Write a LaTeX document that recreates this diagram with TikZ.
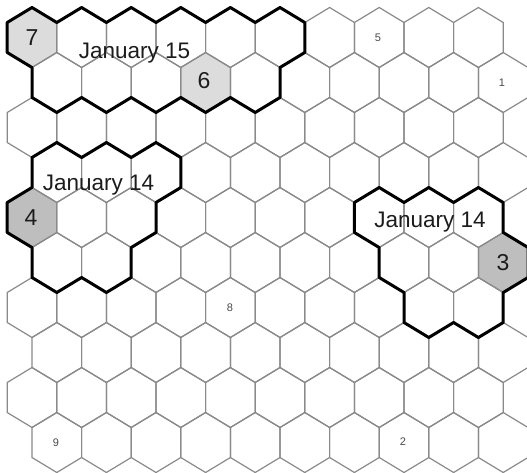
\documentclass[tikz,border=0pt]{standalone}
\usepackage{fontspec}
\setmainfont{Liberation Sans}
\definecolor{gridgray}{HTML}{8A8A8A}
\definecolor{lightfill}{HTML}{DCDCDC}
\definecolor{midfill}{HTML}{BEBEBE}
\definecolor{textdark}{HTML}{1C1C1C}
\definecolor{smallgray}{HTML}{4A4A4A}
\begin{document}
\begin{tikzpicture}[x=1pt,y=-1pt,
  gridline/.style={draw=gridgray,line width=1.2pt,line join=miter},
  region/.style={draw=black,line width=3pt,line join=round},
  hexpath/.style={insert path={++(0,-2) -- ++(1,1) -- ++(0,2) -- ++(-1,1) -- ++(-1,-1) -- ++(0,-2) -- cycle}},
  bignum/.style={font=\fontsize{23}{23}\selectfont,text=textdark,inner sep=0pt},
  datelabel/.style={font=\fontsize{22.5}{27}\selectfont,text=textdark,inner sep=0pt,anchor=base},
  smallnum/.style={font=\fontsize{11}{13}\selectfont,text=smallgray,inner sep=0pt}]
\useasboundingbox[fill=white] (0,0) rectangle (527,472);
\begin{scope}[shift={(7.2,7.5)},x=24.8pt,y=-15pt]
  % shaded cells
  \fill[lightfill] (1,2) [hexpath];
  \fill[lightfill] (8,5) [hexpath];
  \fill[midfill] (1,14) [hexpath];
  \fill[midfill] (20,17) [hexpath];
  % grid
  \foreach \r in {0,...,9}{
    \foreach \c in {0,...,9}{
      \pgfmathtruncatemacro\ci{1+2*\c+mod(\r,2)}
      \pgfmathtruncatemacro\cj{2+3*\r}
      \draw[gridline] (\ci,\cj) [hexpath];
    }
  }
  % region: January 15
  \draw[region] (0,1) -- (1,0) -- (2,1) -- (3,0) -- (4,1) -- (5,0) -- (6,1) -- (7,0) -- (8,1) -- (9,0) -- (10,1) -- (11,0) -- (12,1)
    -- (12,3) -- (11,4) -- (11,6) -- (10,7) -- (9,6) -- (8,7) -- (7,6) -- (6,7) -- (5,6) -- (4,7) -- (3,6) -- (2,7) -- (1,6)
    -- (1,4) -- (0,3) -- cycle;
  % region: January 14 (left)
  \draw[region] (1,10) -- (2,9) -- (3,10) -- (4,9) -- (5,10) -- (6,9) -- (7,10) -- (7,12) -- (6,13) -- (6,15) -- (5,16)
    -- (5,18) -- (4,19) -- (3,18) -- (2,19) -- (1,18) -- (1,16) -- (0,15) -- (0,13) -- (1,12) -- cycle;
  % region: January 14 (right)
  \draw[region] (14,13) -- (15,12) -- (16,13) -- (17,12) -- (18,13) -- (19,12) -- (20,13) -- (20,15) -- (21,16) -- (21,18)
    -- (20,19) -- (20,21) -- (19,22) -- (18,21) -- (17,22) -- (16,21) -- (16,19) -- (15,18) -- (15,16) -- (14,15) -- cycle;
\end{scope}
% big numbers
\node[bignum] (n7) at (32,38) {7};
\node[bignum] (n6) at (204,81) {6};
\node[bignum] (n4) at (31,218) {4};
\node[bignum] (n3) at (503,263) {3};
% date labels
\node[datelabel] (jan15) at (134.5,58) {January 15};
\node[datelabel] (jan14a) at (98.5,190) {January 14};
\node[datelabel] (jan14b) at (430,227) {January 14};
% small numbers
\node[smallnum] (s5) at (378,38) {5};
\node[smallnum] (s1) at (502,83) {1};
\node[smallnum] (s8) at (230,308) {8};
\node[smallnum] (s9) at (56,443) {9};
\node[smallnum] (s2) at (403,442) {2};
\end{tikzpicture}
\end{document}
